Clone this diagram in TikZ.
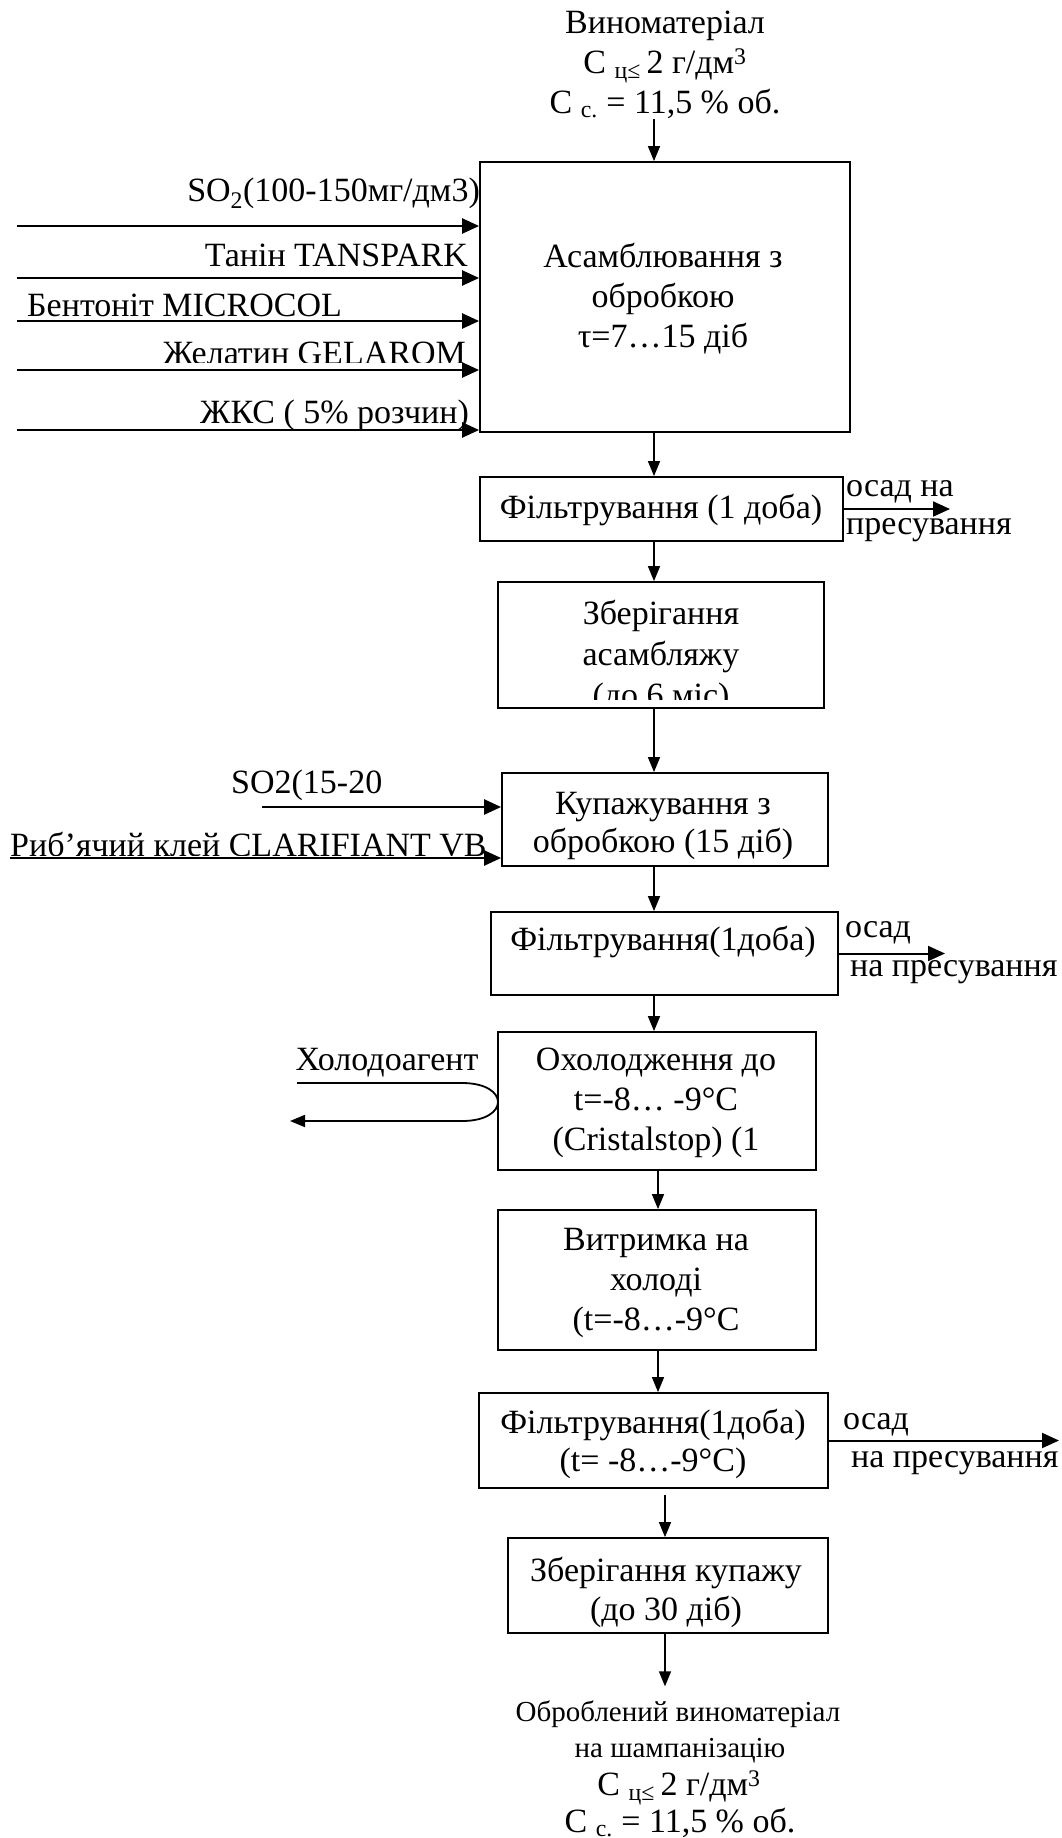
\documentclass[tikz,border=0pt]{standalone}
\usepackage{fontspec}
\setmainfont{Liberation Serif}
\usetikzlibrary{arrows.meta}
\begin{document}
\begin{tikzpicture}[x=1pt,y=-1pt,
  box/.style={draw, line width=1.8pt, inner sep=0pt},
  txt/.style={inner sep=0pt, align=center, font=\fontsize{34}{39}\selectfont},
  lbl/.style={inner sep=0pt, font=\fontsize{34}{39}\selectfont},
  small/.style={inner sep=0pt, font=\fontsize{29}{37}\selectfont},
  arr/.style={line width=1.5pt, -{Triangle[length=15pt,width=12pt]}},
  inarr/.style={line width=2.4pt, -{Triangle[length=17pt,width=15pt]}},
]
\useasboundingbox (0,0) rectangle (1061,1838);

% arrow columns
\coordinate (c1) at (654,0);
\coordinate (c2) at (658,0);
\coordinate (c3) at (665,0);

% boxes
\node[box, minimum width=370pt, minimum height=270pt] (asm) at (665,297) {};
\node[box, minimum width=363pt, minimum height=64pt]  (f1)  at (661.5,509) {};
\node[box, minimum width=326pt, minimum height=126pt] (zb)  at (661,645) {};
\node[box, minimum width=326pt, minimum height=93pt]  (kup) at (665,819.5) {};
\node[box, minimum width=347pt, minimum height=83pt]  (f2)  at (664.5,953.5) {};
\node[box, minimum width=318pt, minimum height=138pt] (ox)  at (657,1101) {};
\node[box, minimum width=318pt, minimum height=140pt] (vy)  at (657,1280) {};
\node[box, minimum width=349pt, minimum height=95pt]  (f3)  at (653.5,1440.5) {};
\node[box, minimum width=320pt, minimum height=95pt]  (zk)  at (668,1585.5) {};

% box texts
\node[txt, font=\fontsize{34}{40}\selectfont] (asmt) at (663,299) {Асамблювання з\\обробкою\\τ=7…15 діб};
\node[txt] (f1t) at (661,510) {Фільтрування (1 доба)};
\begin{scope}
  \clip (498,582) rectangle (824,699);
  \node[txt, font=\fontsize{34}{41}\selectfont] (zbt) at (661,657) {Зберігання\\асамбляжу\\(до 6 міс)};
\end{scope}
\node[txt, font=\fontsize{34}{38}\selectfont] (kupt) at (663,826) {Купажування з\\обробкою (15 діб)};
\node[txt] (f2t) at (663,942) {Фільтрування(1доба)};
\node[txt, font=\fontsize{34}{40}\selectfont] (oxt) at (656,1103) {Охолодження до\\t=-8… -9°C\\(Cristalstop) (1};
\node[txt, font=\fontsize{34}{40}\selectfont] (vyt) at (656,1283) {Витримка на\\холоді\\(t=-8…-9°C};
\node[txt, font=\fontsize{34}{38}\selectfont] (f3t) at (653,1444) {Фільтрування(1доба)\\(t= -8…-9°C)};
\node[txt] (zkt) at (666,1592) {Зберігання купажу\\(до 30 діб)};

% top input text
\node[txt, font=\fontsize{34}{40}\selectfont] (inp) at (665,65)
  {Виноматеріал\\C \textsubscript{ц≤}\,2 г/дм\textsuperscript{3}\\C \textsubscript{с.} = 11,5 \% об.};

% bottom output text
\node[small] (out1) at (678,1714) {Оброблений виноматеріал};
\node[small] (out2) at (680,1751) {на шампанізацію};
\node[lbl] (out3) at (679,1788) {C \textsubscript{ц≤}\,2 г/дм\textsuperscript{3}};
\node[lbl] (out4) at (680,1823) {C \textsubscript{с.} = 11,5 \% об.};

% vertical flow
\draw[arr] (inp.south -| c1) -- (asm.north -| c1);
\draw[arr] (asm.south -| c1) -- (f1.north -| c1);
\draw[arr] (f1.south -| c1) -- (zb.north -| c1);
\draw[arr] (zb.south -| c1) -- (kup.north -| c1);
\draw[arr] (kup.south -| c1) -- (f2.north -| c1);
\draw[arr] (f2.south -| c1) -- (ox.north -| c1);
\draw[arr] (ox.south -| c2) -- (vy.north -| c2);
\draw[arr] (vy.south -| c2) -- (f3.north -| c2);
\draw[arr, shorten <=6pt] (f3.south -| c3) -- (zk.north -| c3);
\draw[arr, shorten >=14pt] (zk.south -| c3) -- (out1.north -| c3);

% inputs to assemblage
\node[lbl, anchor=east] (l1) at (480,193) {SO\textsubscript{2}(100-150мг/дм3)};
\node[lbl, anchor=east] (l2) at (468,255) {Танін TANSPARK};
\node[lbl, anchor=west] (l3) at (27,305) {Бентоніт MICROCOL};
\begin{scope}
  \clip (0,320) rectangle (480,362);
  \node[lbl, anchor=east] (l4) at (466,353) {Желатин GELAROM};
\end{scope}
\node[lbl, anchor=east] (l5) at (469,415) {ЖКС ( 5\% розчин)};
\coordinate (a1) at (17,226);
\coordinate (a2) at (17,278);
\coordinate (a3) at (17,321);
\coordinate (a4) at (17,370);
\coordinate (a5) at (17,430);
\foreach \a in {a1,a2,a3,a4,a5}
  \draw[inarr] (\a) -- (\a -| asm.west);

% inputs to blending
\node[lbl, anchor=west] (k1l) at (231,785) {SO2(15-20};
\begin{scope}
  \clip (0,820) rectangle (502,855);
  \node[lbl, anchor=west] (k2l) at (10,845) {Риб’ячий клей CLARIFIANT VB};
\end{scope}
\coordinate (k1) at (262,807);
\coordinate (k2) at (10,858);
\draw[inarr] (k1) -- (k1 -| kup.west);
\draw[inarr] (k2) -- (k2 -| kup.west);

% sediment outputs
\coordinate (o1) at (950,509);
\coordinate (o2) at (945,953.5);
\coordinate (o3) at (1059,1440.5);
\draw[inarr, line width=2pt] (f1.east) -- (o1);
\draw[inarr, line width=2pt] (f2.east) -- (o2);
\draw[inarr, line width=2pt] (f3.east) -- (o3);
\node[lbl, anchor=west] (s1a) at (846,492) {осад на};
\node[lbl, anchor=west] (s1b) at (846,530) {пресування};
\node[lbl, anchor=west] (s2a) at (845,933) {осад};
\node[lbl, anchor=west] (s2b) at (850,972) {на пресування};
\node[lbl, anchor=west] (s3a) at (843,1425) {осад};
\node[lbl, anchor=west] (s3b) at (851,1463) {на пресування};

% coolant loop
\node[lbl] (hol) at (387,1063) {Холодоагент};
\coordinate (h1) at (297,1083);
\coordinate (h2) at (290,1121);
\draw[arr, line width=1.8pt] (h1) -- (462,1083) .. controls (510,1083) and (510,1121) .. (462,1121) -- (h2);
\end{tikzpicture}
\end{document}
